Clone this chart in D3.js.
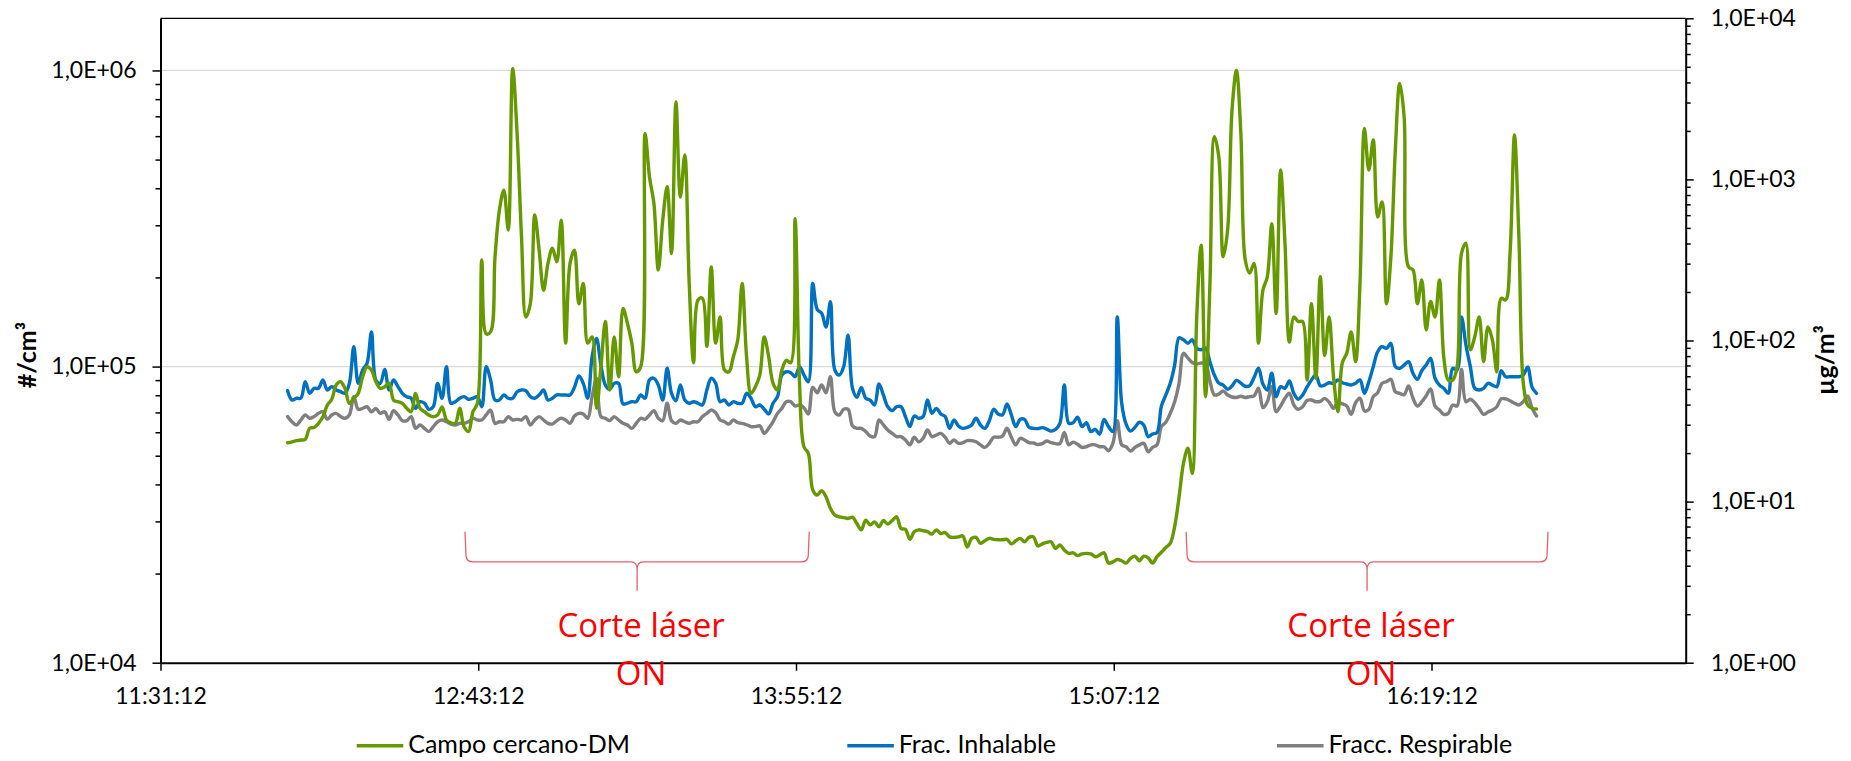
<!DOCTYPE html>
<html>
<head>
<meta charset="utf-8">
<script src="https://cdn.jsdelivr.net/npm/d3@7"></script>
<style>
  body { margin: 0; background: #fff; }
  svg text { font-family: Lato, "Open Sans", sans-serif; fill: #000; }
</style>
</head>
<body>
<div id="container"></div>
<script>
/* CONSTANTS AND GLOBALS */
const width = 1851;
const height = 761;

const margin = {
  top: 18.3,
  right: 165.3,
  bottom: 98.3,
  left: 160.5
}

/* DATA */
// one reading per minute, starting at 12:00:00
const sampleStart = "12:00:00";
const sampleStepMinutes = 1;

// #/cm3, left axis
const campoCercano = [
  55300,55700,56200,56500,56800,61900,62300,64300,67700,74100,
  77500,86600,88900,84400,75100,78100,81200,92400,99800,97300,
  88900,84400,85500,87800,77100,76100,75100,72300,70400,81200,
  72300,70400,68600,67700,68600,73100,66000,64600,64300,72300,
  62600,60300,70400,75100,229000,129000,131000,235000,338000,394000,
  289000,1016000,613000,274000,147000,163000,325000,247000,181000,223000,
  251000,226000,312000,120000,223000,247000,163000,191000,120000,126000,
  72300,99800,142000,83300,126000,92400,157000,140000,120000,96000,
  99800,613000,437000,356000,212000,312000,405000,241000,783000,374000,
  518000,191000,103000,168000,170000,117000,217000,120000,147000,97300,
  96000,108000,123000,191000,108000,81200,85500,93600,126000,108000,
  87800,83300,97300,105000,103000,316000,87800,53600,50900,38300,
  36800,38100,36300,33200,31500,31100,30900,30700,31000,29500,
  28100,30300,29200,29900,28800,30200,29400,30200,31100,28400,
  28200,26100,27700,28100,27900,27700,27200,28100,27300,27500,
  26600,26500,26600,26800,24600,26300,26500,25300,25800,26300,
  26100,26000,26000,26100,25200,25800,26300,25600,26500,26600,
  24800,25200,25500,25600,24300,25000,24000,23400,23500,23000,
  23300,23400,23300,22800,23100,23500,21700,21900,22300,22100,
  21700,22500,22900,22100,22900,22600,21700,22800,23600,24500,
  25300,28800,36300,47100,53000,43600,147000,257000,79100,191000,
  597000,511000,235000,289000,734000,1000000,613000,229000,207000,223000,
  120000,181000,201000,304000,151000,461000,261000,121000,147000,142000,
  142000,90000,163000,91200,201000,109000,147000,92400,70400,103000,
  111000,131000,104000,191000,637000,461000,582000,320000,360000,163000,
  235000,538000,904000,697000,217000,212000,163000,196000,133000,166000,
  147000,196000,107000,90000,90000,99800,241000,261000,114000,126000,
  147000,104000,136000,123000,96000,170000,168000,241000,605000,274000,
  87800,74100,72300,71900
];

// ug/m3, right axis
const fracInhalable = [
  48.8,42.7,43.8,43.8,55.5,47.0,50.5,50.5,56.9,49.3,
  51.7,49.3,48.1,47.0,54.2,91.5,54.2,65.6,72.2,113,
  56.9,54.2,66.2,49.3,56.9,51.7,47.0,44.8,43.8,37.9,
  41.7,40.8,37.4,38.8,54.2,43.8,68.8,40.8,41.7,43.8,
  44.8,43.2,43.8,44.8,38.8,68.8,56.9,42.7,42.7,45.9,
  43.8,43.8,48.1,49.3,48.8,44.8,43.8,45.9,49.3,42.7,
  43.8,45.9,45.9,45.9,45.9,51.2,60.2,54.2,43.8,79.3,
  103,70.4,52.9,49.8,54.2,54.2,40.4,40.8,41.7,41.7,
  45.9,43.8,56.9,58.3,52.9,42.7,67.2,47.0,42.3,52.9,
  42.7,40.8,41.7,40.8,39.8,49.3,58.3,54.2,41.7,42.7,
  39.8,41.7,40.8,40.8,47.0,43.8,38.8,39.8,37.4,35.0,
  40.8,44.8,61.1,64.0,63.1,59.6,68.8,61.1,55.5,226,
  156,148,121,174,65.6,61.1,68.8,108,50.5,44.4,
  51.2,43.8,42.7,39.8,53.7,45.9,38.8,36.7,38.8,38.8,
  33.7,29.2,34.0,32.9,33.7,42.7,35.3,37.9,35.0,33.7,
  28.5,32.1,29.5,28.5,28.9,29.9,32.9,29.9,28.5,31.8,
  37.4,35.0,34.5,40.4,34.5,29.2,32.4,32.4,28.9,28.5,
  28.4,28.8,28.2,27.4,28.1,30.6,52.9,30.7,30.9,33.4,
  29.2,30.9,27.2,28.1,26.2,32.4,29.2,27.2,140,40.8,
  30.3,27.4,28.9,31.1,29.9,25.3,26.3,26.8,39.2,45.9,
  54.2,70.4,104,101,96.1,101,89.4,87.7,89.8,73.5,
  61.1,54.4,52.9,49.8,52.2,56.5,54.4,52.0,52.5,59.0,
  67.2,53.7,49.3,62.6,44.8,51.7,50.5,56.1,47.0,43.2,
  45.9,51.5,56.9,61.1,52.3,52.9,54.7,54.2,56.9,54.7,
  53.7,52.9,54.2,56.9,47.0,55.5,68.8,85.2,91.5,89.4,
  96.1,68.8,67.2,70.4,73.9,62.6,57.4,64.9,70.4,77.5,
  58.3,52.9,50.5,47.0,67.2,65.6,140,93.8,68.8,50.5,
  49.3,50.5,54.2,52.9,51.7,64.9,59.6,59.6,59.6,59.6,
  61.1,68.2,51.2,47.0
];

// ug/m3, right axis
const fraccRespirable = [
  33.7,31.3,29.9,32.1,34.5,32.9,33.7,35.3,36.1,32.4,
  34.5,35.3,33.7,32.9,34.5,44.8,37.4,37.9,38.8,36.1,
  37.9,35.3,36.1,32.4,36.7,34.5,31.8,31.8,33.7,28.5,
  29.9,28.5,27.2,29.2,31.3,32.1,31.3,30.3,29.9,30.6,
  30.6,31.3,32.9,32.1,32.1,34.5,37.0,30.6,31.3,31.3,
  33.7,32.1,32.4,32.1,33.7,29.9,32.1,33.7,32.1,30.6,
  30.3,31.8,32.9,32.1,30.6,34.0,35.3,35.0,32.9,44.8,
  58.3,33.7,32.9,31.8,33.7,32.1,30.6,29.9,28.5,30.6,
  32.9,32.4,34.5,36.7,32.9,31.8,40.8,31.8,30.6,32.1,
  31.3,30.6,31.3,31.3,33.7,35.3,37.0,35.6,32.1,31.3,
  30.3,32.1,30.9,30.6,30.0,29.2,29.2,29.5,26.5,28.5,
  31.3,35.3,37.9,41.7,41.7,39.2,39.8,38.3,35.0,51.2,
  47.4,52.9,47.4,59.6,36.1,34.5,37.4,37.4,29.5,28.5,
  28.5,27.2,25.5,25.3,32.1,29.9,27.8,26.5,25.3,25.3,
  24.1,22.5,25.1,23.5,24.7,27.8,25.3,25.9,26.5,25.1,
  23.0,24.1,23.0,23.2,23.9,23.9,23.5,22.5,21.7,23.0,
  25.1,25.1,25.5,28.5,25.1,22.5,24.7,24.1,23.2,23.1,
  22.6,22.9,23.8,23.2,22.9,22.9,26.9,22.5,23.4,22.7,
  21.7,21.9,22.5,22.5,21.9,21.9,20.7,23.0,31.8,22.5,
  21.9,20.6,21.7,22.5,23.0,20.4,21.7,22.5,29.2,31.1,
  35.3,41.7,54.2,83.3,77.9,73.0,71.5,72.5,71.5,56.1,
  45.9,46.5,48.6,45.9,44.6,44.3,45.1,44.3,44.8,45.3,
  50.5,38.3,41.7,51.7,36.1,39.2,43.8,47.0,39.8,37.4,
  38.8,42.4,42.7,41.7,41.9,43.7,41.4,37.9,41.5,40.4,
  39.2,34.8,41.1,43.8,36.5,37.4,44.8,47.4,54.2,55.5,
  57.4,48.1,47.0,46.1,52.2,43.8,39.2,41.7,45.4,50.0,
  39.2,37.0,34.8,35.3,39.8,39.2,66.2,41.7,43.2,41.1,
  37.9,34.8,36.0,37.0,38.8,43.5,43.4,42.3,40.8,39.8,
  41.7,45.2,37.9,34.0
];

const seriesNames = ["Campo cercano-DM", "Frac. Inhalable", "Fracc. Respirable"];
const seriesColors = ["#669900", "#0070C0", "#7F7F7F"];

const xDomain = ["11:31:12", "17:16:48"];
const xTickLabels = ["11:31:12", "12:43:12", "13:55:12", "15:07:12", "16:19:12"];
const leftDomain = [1e4, 1.5e6];
const leftTicks = [1e4, 1e5, 1e6];
const rightDomain = [1, 1e4];
const rightTicks = [1, 10, 100, 1000, 10000];

// laser cutting periods, marked with a brace under the curves
const laserPeriods = [
  { start: "12:40:12", end: "13:58:12" },
  { start: "15:23:36", end: "16:45:36" }
];
const braceLevels = { top: 27700, mid: 21900, tip: 17500 }; // on the #/cm3 axis
const laserLabel = ["Corte láser", "ON"];

/* SCALES */
const parseTime = d3.timeParse("%H:%M:%S");
const sampleTime = i => d3.timeMinute.offset(parseTime(sampleStart), i * sampleStepMinutes);

const xScale = d3.scaleTime()
  .domain(xDomain.map(parseTime))
  .range([margin.left, width - margin.right])

const yLeft = d3.scaleLog()
  .domain(leftDomain)
  .range([height - margin.bottom, margin.top])

const yRight = d3.scaleLog()
  .domain(rightDomain)
  .range([height - margin.bottom, margin.top])

const expFormat = d => "1,0E+" + String(Math.round(Math.log10(d))).padStart(2, "0");

/* SVG */
const svg = d3.select("#container")
  .append("svg")
  .attr("width", width)
  .attr("height", height)
  .style("background-color", "#fff")

// gridlines at the major left ticks
svg.append("g")
  .selectAll("line")
  .data(leftTicks.filter(d => d > leftDomain[0]))
  .join("line")
  .attr("x1", margin.left)
  .attr("x2", width - margin.right)
  .attr("y1", d => yLeft(d))
  .attr("y2", d => yLeft(d))
  .attr("stroke", "#d9d9d9")
  .attr("stroke-width", 1.3)

// top edge of the plot area
svg.append("line")
  .attr("x1", margin.left)
  .attr("x2", width - margin.right)
  .attr("y1", margin.top)
  .attr("y2", margin.top)
  .attr("stroke", "#000")
  .attr("stroke-width", 1.3)

/* LINES */
const lineFor = y => d3.line()
  .x((d, i) => xScale(sampleTime(i)))
  .y(d => y(d))
  .curve(d3.curveCatmullRom.alpha(0.5))

const drawOrder = [
  { values: fraccRespirable, y: yRight, color: seriesColors[2] },
  { values: fracInhalable, y: yRight, color: seriesColors[1] },
  { values: campoCercano, y: yLeft, color: seriesColors[0] }
];

drawOrder.forEach((s, i) => {
  svg.append("path")
    .datum(s.values)
    .attr("class", `line${i}`)
    .attr("fill", "none")
    .attr("stroke", s.color)
    .attr("stroke-width", 3.4)
    .attr("stroke-linejoin", "round")
    .attr("stroke-linecap", "round")
    .attr("d", lineFor(s.y))
})

/* AXES */
const styleAxis = g => {
  g.attr("font-family", null).attr("font-size", null)
  g.selectAll("line").attr("stroke", "#000").attr("stroke-width", 1.5)
  g.selectAll(".domain").attr("stroke", "#000").attr("stroke-width", 2)
  g.selectAll("text").style("font-size", "23px")
}

// minor ticks from the log scales themselves
svg.append("g")
  .attr("transform", `translate(${margin.left}, 0)`)
  .call(d3.axisLeft(yLeft).tickValues(yLeft.ticks().filter(d => !leftTicks.includes(d))).tickSize(5).tickFormat(""))
  .call(g => g.select(".domain").remove())
  .call(styleAxis)

svg.append("g")
  .attr("transform", `translate(${width - margin.right}, 0)`)
  .call(d3.axisRight(yRight).tickValues(yRight.ticks().filter(d => !rightTicks.includes(d))).tickSize(5).tickFormat(""))
  .call(g => g.select(".domain").remove())
  .call(styleAxis)

svg.append("g")
  .attr("class", "yAxis")
  .attr("transform", `translate(${margin.left}, 0)`)
  .call(d3.axisLeft(yLeft).tickValues(leftTicks).tickFormat(expFormat).tickSize(8).tickSizeOuter(0).tickPadding(16))
  .call(styleAxis)

svg.append("g")
  .attr("class", "yAxis2")
  .attr("transform", `translate(${width - margin.right}, 0)`)
  .call(d3.axisRight(yRight).tickValues(rightTicks).tickFormat(expFormat).tickSize(8).tickSizeOuter(0).tickPadding(17))
  .call(styleAxis)

svg.append("g")
  .attr("class", "xAxis")
  .attr("transform", `translate(0, ${height - margin.bottom})`)
  .call(d3.axisBottom(xScale).tickValues(xTickLabels.map(parseTime)).tickFormat(d3.timeFormat("%H:%M:%S")).tickSize(8).tickSizeOuter(0))
  .call(styleAxis)
  .call(g => g.selectAll("text").attr("y", 41.6).attr("dy", 0))

// axis titles
svg.append("text")
  .attr("transform", `translate(26, 355) rotate(-90)`)
  .attr("text-anchor", "middle")
  .attr("dominant-baseline", "central")
  .style("font-weight", "bold")
  .style("font-size", "25px")
  .text("#/cm³")

svg.append("text")
  .attr("transform", `translate(1824, 360) rotate(-90)`)
  .attr("text-anchor", "middle")
  .attr("dominant-baseline", "central")
  .style("font-weight", "bold")
  .style("font-size", "25px")
  .text("µg/m³")

/* LASER BRACES */
const braceGroup = svg.append("g")

laserPeriods.forEach(p => {
  const L = xScale(parseTime(p.start));
  const R = xScale(parseTime(p.end));
  const m = (L + R) / 2;
  const yt = yLeft(braceLevels.top);
  const yh = yLeft(braceLevels.mid);
  const yb = yLeft(braceLevels.tip);
  const r = 6;

  const path = d3.path();
  path.moveTo(L, yt);
  path.lineTo(L + 1, yh - r);
  path.quadraticCurveTo(L + 1.5, yh, L + r + 2, yh);
  path.lineTo(m - r, yh);
  path.quadraticCurveTo(m, yh, m, yh + r + 2);
  path.lineTo(m, yb);
  path.moveTo(m, yh + r + 2);
  path.quadraticCurveTo(m, yh, m + r, yh);
  path.lineTo(R - r - 2, yh);
  path.quadraticCurveTo(R - 1.5, yh, R - 1, yh - r);
  path.lineTo(R, yt);

  braceGroup.append("path")
    .attr("d", path.toString())
    .attr("fill", "none")
    .attr("stroke", "#e4606d")
    .attr("stroke-width", 1.3)

  laserLabel.forEach((t, k) => {
    braceGroup.append("text")
      .attr("x", m + 4)
      .attr("y", yb + 46 + k * 48)
      .attr("text-anchor", "middle")
      .style("font-family", "'Open Sans', Lato, sans-serif")
      .style("font-size", "33px")
      .style("fill", "#ff0000")
      .text(t)
  })
})

/* LEGEND */
const legendX = [356.7, 847.3, 1277];
const legend = svg.append("g")
  .attr("transform", `translate(0, 745.7)`)

seriesNames.forEach((name, i) => {
  legend.append("line")
    .attr("x1", legendX[i])
    .attr("x2", legendX[i] + 46.6)
    .attr("y1", 0)
    .attr("y2", 0)
    .attr("stroke", seriesColors[i])
    .attr("stroke-width", 3.4)
  legend.append("text")
    .attr("x", legendX[i] + 51.5)
    .attr("y", 7.3)
    .style("font-size", "25px")
    .text(name)
})
</script>
</body>
</html>
